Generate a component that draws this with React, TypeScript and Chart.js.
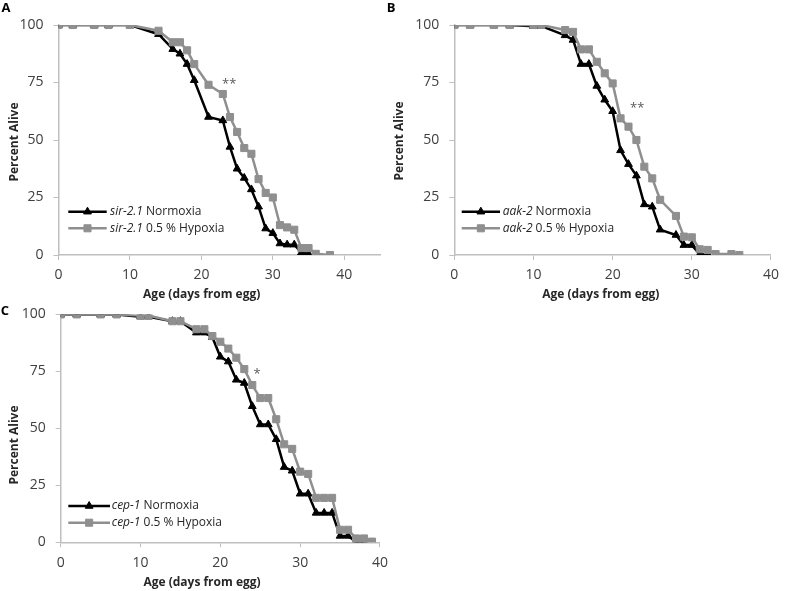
import React, { useEffect, useRef } from 'react';
import { Chart, registerables } from 'chart.js';

Chart.register(...registerables);

const FONT = '"Open Sans", "DejaVu Sans", sans-serif';
const BLACK = '#000000';
const GRAY = '#8f8f8f';
const AXIS = '#bfbfbf';

// ---------- Shared tick labels ----------
const yTickValues = [0, 25, 50, 75, 100];
const xTickValues = [0, 10, 20, 30, 40];

// ---------- Panel A : sir-2.1 ----------
const aNormDays = [0, 2, 5, 7, 10, 14, 16, 17, 18, 19, 21, 23, 24, 25, 26, 27, 28, 29, 30, 31, 32, 33, 34, 35];
const aNormPct = [100, 100, 100, 100, 100, 96, 89.5, 87.5, 83, 76, 60, 58.5, 47, 37.5, 33.5, 28.5, 21, 11.5, 9.5, 5, 4.5, 4.5, 1, 0.5];
const aHypDays = [0, 2, 5, 7, 10, 14, 16, 17, 18, 19, 21, 23, 24, 25, 26, 27, 28, 29, 30, 31, 32, 33, 34, 35, 36, 38];
const aHypPct = [100, 100, 100, 100, 100, 97.5, 92.5, 92.5, 89, 83, 74, 70, 60, 53.5, 46.5, 44, 33, 27, 25, 13, 12, 11, 3, 3, 0.5, 0];

// ---------- Panel B : aak-2 ----------
const bNormDays = [0, 2, 5, 7, 10, 11, 14, 15, 16, 17, 18, 19, 20, 21, 22, 23, 24, 25, 26, 28, 29, 30, 31, 32];
const bNormPct = [100, 100, 100, 100, 99.5, 99.5, 95.5, 93.5, 83, 83, 73.5, 67.5, 62.5, 45.5, 39.5, 34.5, 22, 21, 11, 8.7, 4.3, 4.3, 0.3, 0.3];
const bHypDays = [0, 2, 5, 7, 10, 11, 14, 15, 16, 17, 18, 19, 20, 21, 22, 23, 24, 25, 26, 28, 29, 30, 31, 32, 33, 35, 36];
const bHypPct = [100, 100, 100, 100, 100, 100, 97.8, 97, 89.4, 89.4, 84, 79, 74.6, 59.4, 55.8, 50, 38.4, 33.3, 24, 17, 8, 7.7, 2.5, 2.2, 0.4, 0.4, 0];

// ---------- Panel C : cep-1 ----------
const cNormDays = [0, 2, 5, 7, 10, 11, 14, 15, 17, 18, 19, 20, 21, 22, 23, 24, 25, 26, 27, 28, 29, 30, 31, 32, 33, 34, 35, 36, 37, 38];
const cNormPct = [100, 100, 100, 100, 99, 99, 97, 97, 92, 92, 90, 81.4, 79.3, 71.3, 69.9, 59.7, 51.7, 51.7, 45.2, 33, 31.4, 21.3, 21.3, 12.9, 12.9, 12.9, 2.8, 2.8, 0.2, 0.2];
const cHypDays = [0, 2, 5, 7, 10, 11, 14, 15, 17, 18, 19, 20, 21, 22, 23, 24, 25, 26, 27, 28, 29, 30, 31, 32, 33, 34, 35, 36, 37, 38, 39];
const cHypPct = [100, 100, 100, 100, 99.5, 99.5, 97, 97, 93.5, 93.5, 90.5, 88, 85, 81, 76, 69, 63.3, 63.3, 54, 43, 41, 31, 30, 19.5, 19.5, 19.5, 5.5, 5.5, 1.7, 1.7, 0.3];

// ---------- Labels ----------
const genes = ['sir-2.1', 'aak-2', 'cep-1'];
const letters = ['A', 'B', 'C'];
const conditionLabels = ['Normoxia', '0.5 % Hypoxia'];
const stars = ['**', '**', '*'];
const starX = [23.9, 23.1, 24.6];
const starY = [76.1, 65.7, 75.7];
const xMaxes = [45, 40, 40];
const yTitle = 'Percent Alive';
const xTitle = 'Age (days from egg)';

type Layout = {
  box: { left: number; top: number; width: number; height: number };
  area: { left: number; top: number; right: number; bottom: number };
  letterPos: [number, number];
  yTitlePos: [number, number];
  xTitlePos: [number, number];
  legend: { x1: number; x2: number; rows: [number, number]; textX: number };
};

const layouts: Layout[] = [
  {
    box: { left: 0, top: 0, width: 386, height: 305 },
    area: { left: 58.5, top: 25, right: 380.7, bottom: 255 },
    letterPos: [6, 8],
    yTitlePos: [15, 142],
    xTitlePos: [201.7, 295],
    legend: { x1: 68.3, x2: 106.7, rows: [211.7, 228.3], textX: 110 },
  },
  {
    box: { left: 380, top: 0, width: 406, height: 305 },
    area: { left: 74.3, top: 25, right: 397.1, bottom: 255 },
    letterPos: [11, 8],
    yTitlePos: [20, 141],
    xTitlePos: [220.8, 295],
    legend: { x1: 81.7, x2: 120, rows: [211.7, 228.3], textX: 122.7 },
  },
  {
    box: { left: 0, top: 296, width: 395, height: 295 },
    area: { left: 60.7, top: 16.3, right: 383.3, bottom: 246.3 },
    letterPos: [5, 15],
    yTitlePos: [15, 149],
    xTitlePos: [202, 287],
    legend: { x1: 68.3, x2: 110, rows: [210, 226.7], textX: 111.7 },
  },
];

const panelData = [
  { nd: aNormDays, np: aNormPct, hd: aHypDays, hp: aHypPct },
  { nd: bNormDays, np: bNormPct, hd: bHypDays, hp: bHypPct },
  { nd: cNormDays, np: cNormPct, hd: cHypDays, hp: cHypPct },
];

const TRI_R = 4.5;
const SQ_R = 5;
const LINE_W = 2.5;

function drawMarker(ctx: CanvasRenderingContext2D, style: string, x: number, y: number, r: number, color: string) {
  ctx.beginPath();
  if (style === 'triangle') {
    let rad = 0;
    ctx.moveTo(x + Math.sin(rad) * r, y - Math.cos(rad) * r);
    rad += (2 * Math.PI) / 3;
    ctx.lineTo(x + Math.sin(rad) * r, y - Math.cos(rad) * r);
    rad += (2 * Math.PI) / 3;
    ctx.lineTo(x + Math.sin(rad) * r, y - Math.cos(rad) * r);
    ctx.closePath();
  } else {
    const s = Math.SQRT1_2 * r;
    ctx.rect(x - s, y - s, 2 * s, 2 * s);
  }
  ctx.fillStyle = color;
  ctx.fill();
  ctx.lineWidth = 1;
  ctx.strokeStyle = color;
  ctx.stroke();
}

function makeOverlay(idx: number) {
  const lay = layouts[idx];
  return {
    id: 'overlay' + idx,
    afterDraw(chart: any) {
      const ctx: CanvasRenderingContext2D = chart.ctx;
      const xs = chart.scales.x;
      const ys = chart.scales.y;
      ctx.save();
      // panel letter
      ctx.fillStyle = '#000';
      ctx.textAlign = 'center';
      ctx.textBaseline = 'middle';
      ctx.font = `bold 13px ${FONT}`;
      ctx.fillText(letters[idx], lay.letterPos[0], lay.letterPos[1]);
      // y title
      ctx.save();
      ctx.translate(lay.yTitlePos[0], lay.yTitlePos[1]);
      ctx.rotate(-Math.PI / 2);
      ctx.font = `bold 12px ${FONT}`;
      ctx.fillStyle = '#262626';
      ctx.fillText(yTitle, 0, 0);
      ctx.restore();
      // x title
      ctx.font = `bold 12px ${FONT}`;
      ctx.fillStyle = '#262626';
      ctx.fillText(xTitle, lay.xTitlePos[0], lay.xTitlePos[1]);
      // significance stars
      ctx.font = `13px ${FONT}`;
      ctx.fillStyle = '#595959';
      ctx.textBaseline = 'alphabetic';
      ctx.fillText(stars[idx], xs.getPixelForValue(starX[idx]), ys.getPixelForValue(starY[idx]) + 8);
      // legend
      const lg = lay.legend;
      const entries = [
        { color: BLACK, style: 'triangle', r: TRI_R, text: conditionLabels[0] },
        { color: GRAY, style: 'rect', r: SQ_R, text: conditionLabels[1] },
      ];
      entries.forEach((e, i) => {
        const y = lg.rows[i];
        ctx.beginPath();
        ctx.moveTo(lg.x1, y);
        ctx.lineTo(lg.x2, y);
        ctx.strokeStyle = e.color;
        ctx.lineWidth = LINE_W;
        ctx.stroke();
        drawMarker(ctx, e.style, (lg.x1 + lg.x2) / 2, y, e.r, e.color);
        ctx.textAlign = 'left';
        ctx.textBaseline = 'middle';
        ctx.fillStyle = '#262626';
        ctx.font = `italic 12px ${FONT}`;
        ctx.fillText(genes[idx], lg.textX, y);
        const w = ctx.measureText(genes[idx]).width;
        ctx.font = `12px ${FONT}`;
        ctx.fillText(' ' + e.text, lg.textX + w, y);
      });
      ctx.restore();
    },
  };
}

function buildConfig(idx: number): any {
  const lay = layouts[idx];
  const d = panelData[idx];
  const tickFont = { family: FONT, size: 14 };
  return {
    type: 'line',
    data: {
      datasets: [
        {
          label: genes[idx] + ' ' + conditionLabels[0],
          data: d.nd.map((x, i) => ({ x, y: d.np[i] })),
          borderColor: BLACK,
          backgroundColor: BLACK,
          borderWidth: LINE_W,
          pointStyle: 'triangle',
          pointRadius: TRI_R,
          pointBorderWidth: 1,
          pointBackgroundColor: BLACK,
          pointBorderColor: BLACK,
          tension: 0,
          order: 1,
        },
        {
          label: genes[idx] + ' ' + conditionLabels[1],
          data: d.hd.map((x, i) => ({ x, y: d.hp[i] })),
          borderColor: GRAY,
          backgroundColor: GRAY,
          borderWidth: LINE_W,
          pointStyle: 'rect',
          pointRadius: SQ_R,
          pointBorderWidth: 1,
          pointBackgroundColor: GRAY,
          pointBorderColor: GRAY,
          tension: 0,
          order: 0,
        },
      ],
    },
    options: {
      responsive: false,
      animation: false,
      events: [],
      layout: {
        padding: {
          top: lay.area.top,
          left: 0,
          bottom: 0,
          right: lay.box.width - lay.area.right,
        },
      },
      plugins: { legend: { display: false }, tooltip: { enabled: false }, title: { display: false } },
      scales: {
        x: {
          type: 'linear',
          min: 0,
          max: xMaxes[idx],
          afterBuildTicks: (s: any) => {
            s.ticks = xTickValues.map((v) => ({ value: v }));
          },
          afterFit: (s: any) => {
            s.height = lay.box.height - lay.area.bottom;
          },
          ticks: { font: tickFont, color: '#404040', padding: 7, maxRotation: 0, autoSkip: false },
          grid: { display: true, drawOnChartArea: false, drawTicks: true, tickLength: 5, color: AXIS, lineWidth: 1 },
          border: { display: true, color: AXIS, width: 1.5 },
        },
        y: {
          type: 'linear',
          min: 0,
          max: 100,
          afterBuildTicks: (s: any) => {
            s.ticks = yTickValues.map((v) => ({ value: v }));
          },
          afterFit: (s: any) => {
            s.width = lay.area.left;
          },
          ticks: { font: tickFont, color: '#404040', padding: 10 },
          grid: { display: true, drawOnChartArea: false, drawTicks: true, tickLength: 5, color: AXIS, lineWidth: 1 },
          border: { display: true, color: AXIS, width: 1.5 },
        },
      },
    },
    plugins: [makeOverlay(idx)],
  };
}

function Panel({ idx }: { idx: number }) {
  const ref = useRef<HTMLCanvasElement>(null);
  const lay = layouts[idx];
  useEffect(() => {
    const chart = new Chart(ref.current as HTMLCanvasElement, buildConfig(idx));
    return () => chart.destroy();
  }, [idx]);
  return (
    <div
      style={{
        position: 'absolute',
        left: lay.box.left,
        top: lay.box.top,
        width: lay.box.width,
        height: lay.box.height,
      }}
    >
      <canvas
        ref={ref}
        width={lay.box.width}
        height={lay.box.height}
        style={{ width: lay.box.width, height: lay.box.height, display: 'block' }}
      />
    </div>
  );
}

export default function App() {
  return (
    <div>
      <Panel idx={0} />
      <Panel idx={1} />
      <Panel idx={2} />
    </div>
  );
}
